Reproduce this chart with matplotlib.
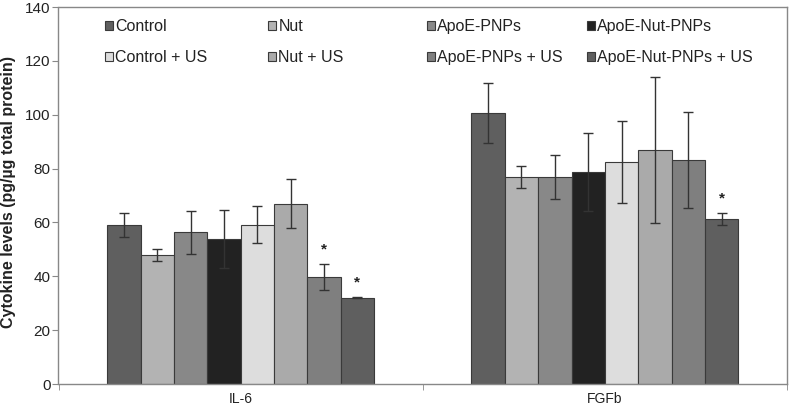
import matplotlib
matplotlib.use("Agg")
import matplotlib.pyplot as plt
import numpy as np

plt.rcParams['font.family'] = ['Liberation Sans', 'DejaVu Sans']

categories = ["IL-6", "FGFb"]
groups = ["Control", "Nut", "ApoE-PNPs", "ApoE-Nut-PNPs",
          "Control + US", "Nut + US", "ApoE-PNPs + US", "ApoE-Nut-PNPs + US"]
colors = ["#5f5f5f", "#b3b3b3", "#888888", "#222222",
          "#dddddd", "#aaaaaa", "#7f7f7f", "#5f5f5f"]

# values per group: [IL-6, FGFb]
means = [
    [59.0, 100.6],
    [47.9, 76.9],
    [56.3, 77.0],
    [53.8, 78.7],
    [59.2, 82.4],
    [67.0, 86.9],
    [39.7, 83.2],
    [32.0, 61.3],
]
errs = [
    [4.5, 11.0],
    [2.3, 4.0],
    [8.0, 8.2],
    [10.9, 14.5],
    [6.8, 15.3],
    [9.0, 27.0],
    [4.7, 17.8],
    [0.2, 2.1],
]
stars = [  # (category index, group index)
    (0, 6), (0, 7), (1, 7)
]

W, H = 789, 407
fig = plt.figure(figsize=(W / 100, H / 100), dpi=100)
axL, axR, axT, axB = 58.5, 787, 7, 384
ax = fig.add_axes([axL / W, (H - axB) / H, (axR - axL) / W, (axB - axT) / H])

n = len(groups)
bw = 0.0916
x = np.arange(len(categories))
handles = []
for i in range(n):
    xi = x + (i - (n - 1) / 2) * bw
    b = ax.bar(xi, means[i], width=bw, color=colors[i], edgecolor="#3a3a3a",
               linewidth=0.8, label=groups[i], zorder=2)
    handles.append(b)
    ax.errorbar(xi, means[i], yerr=errs[i], fmt="none", ecolor="#333333",
                elinewidth=1.0, capsize=3.5, capthick=1.0, zorder=3)

for c, g in stars:
    xi = x[c] + (g - (n - 1) / 2) * bw
    ax.text(xi, means[g][c] + errs[g][c] + 5.5, "*", ha="center", va="center",
            fontsize=11, fontweight="bold", color="#222222")

ax.set_xlim(-0.5, 1.5)
ax.set_ylim(0, 140)
ax.set_yticks(np.arange(0, 141, 20))
ax.set_xticks(x)
ax.set_xticklabels(categories)
ax.set_xticks([-0.5, 0.5, 1.5], minor=True)
ax.tick_params(axis="x", which="major", length=0, labelsize=10, pad=6, colors="#222222")
ax.tick_params(axis="x", which="minor", length=4, direction="out", color="#888888")
ax.tick_params(axis="y", length=4.3, pad=1.5, direction="out", labelsize=11,
               color="#888888", labelcolor="#222222")
for s in ax.spines.values():
    s.set_color("#888888")
    s.set_linewidth(1.0)
ax.set_ylabel("Cytokine levels (pg/µg total protein)", fontsize=11.5,
              fontweight="bold", color="#222222")
ax.yaxis.set_label_coords((16.5 - axL) / (axR - axL), 0.51)

# legend: 4 columns x 2 rows, row-wise order
col_x = [105, 268, 427, 587]
leg_top = 19
for c in range(4):
    hs = [handles[c], handles[c + 4]]
    ls = [groups[c], groups[c + 4]]
    leg = fig.legend(hs, ls, loc="upper left",
                     bbox_to_anchor=(col_x[c] / W, 1 - leg_top / H),
                     bbox_transform=fig.transFigure, frameon=False,
                     fontsize=11.5, handlelength=0.5, handleheight=0.5,
                     handletextpad=0.15, labelspacing=1.0,
                     borderpad=0, borderaxespad=0)
    for t in leg.get_texts():
        t.set_color("#222222")

fig.savefig("out.png", dpi=100)
